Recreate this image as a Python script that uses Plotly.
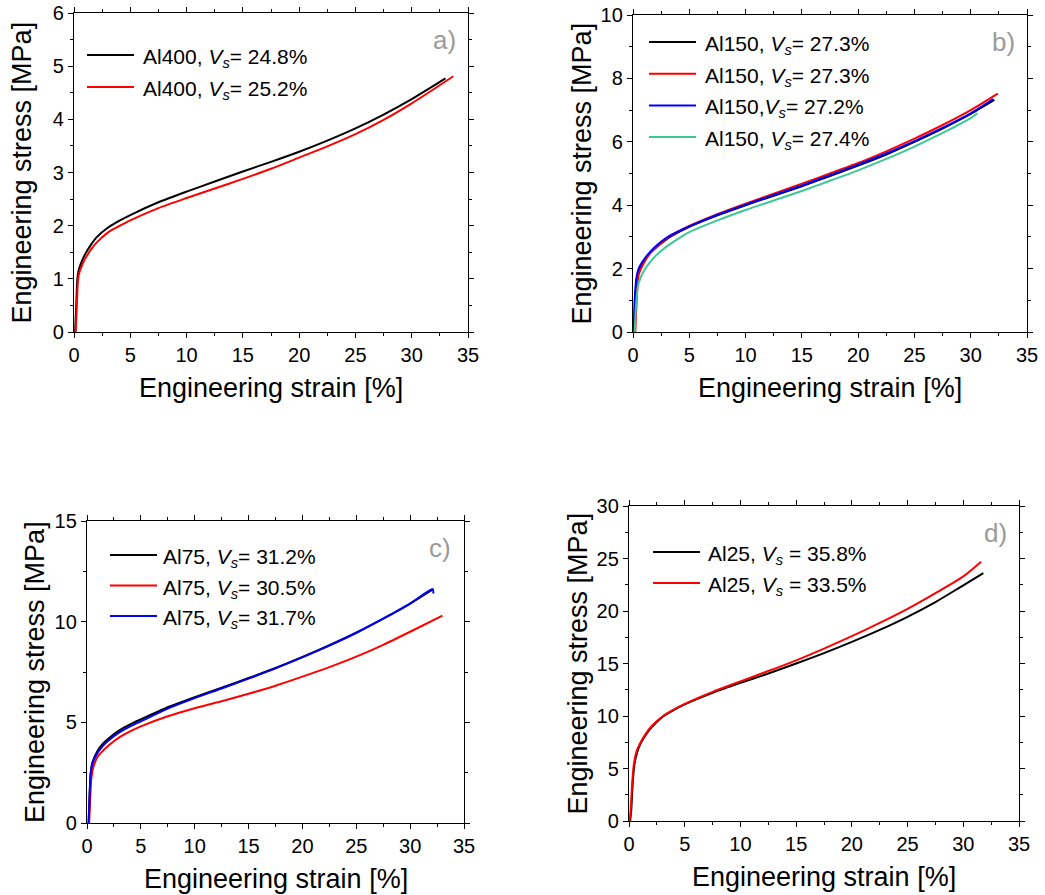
import plotly.graph_objects as go

W, H = 1045, 895

# ---------------- data ----------------
# Panel a) Al400
a_black_x = [0.1, 0.2, 0.3, 0.4, 0.6, 1, 1.5, 2, 3, 4, 5, 7.5, 10, 12.5, 15, 17.5, 20, 22.5, 25, 27.5, 30, 33]
a_black_y = [0, 0.5, 1.0, 1.15, 1.28, 1.47, 1.64, 1.78, 1.96, 2.09, 2.2, 2.44, 2.64, 2.83, 3.02, 3.2, 3.39, 3.6, 3.83, 4.09, 4.38, 4.77]
a_red_x = [0.15, 0.25, 0.35, 0.45, 0.7, 1, 1.5, 2, 3, 4, 5, 7.5, 10, 12.5, 15, 17.5, 20, 22.5, 25, 27.5, 30, 33.7]
a_red_y = [0, 0.5, 0.95, 1.1, 1.25, 1.38, 1.55, 1.68, 1.87, 1.99, 2.1, 2.33, 2.52, 2.7, 2.88, 3.07, 3.28, 3.49, 3.72, 3.99, 4.3, 4.81]

# Panel b) Al150
b_black_x = [0.1, 0.2, 0.3, 0.5, 1, 1.5, 2, 3, 4, 5, 7.5, 10, 12.5, 15, 17.5, 20, 22.5, 25, 27.5, 30, 32.1]
b_black_y = [0, 1.0, 1.6, 1.9, 2.25, 2.48, 2.65, 2.93, 3.14, 3.32, 3.68, 4.0, 4.3, 4.6, 4.92, 5.25, 5.6, 6.0, 6.42, 6.88, 7.32]
b_red_x = [0.2, 0.3, 0.4, 0.5, 1, 1.5, 2, 3, 4, 5, 7.5, 10, 12.5, 15, 17.5, 20, 22.5, 25, 27.5, 30, 32.4]
b_red_y = [0, 0.8, 1.5, 1.8, 2.2, 2.47, 2.65, 2.95, 3.17, 3.35, 3.72, 4.05, 4.36, 4.68, 5.0, 5.33, 5.7, 6.1, 6.53, 7.0, 7.52]
b_blue_x = [0.05, 0.15, 0.3, 0.5, 1, 1.5, 2, 3, 4, 5, 7.5, 10, 12.5, 15, 17.5, 20, 22.5, 25, 27.5, 30, 32.0]
b_blue_y = [0, 1.0, 1.7, 2.0, 2.3, 2.52, 2.7, 2.98, 3.17, 3.33, 3.7, 4.02, 4.32, 4.62, 4.95, 5.28, 5.63, 6.02, 6.44, 6.9, 7.35]
b_green_x = [0.15, 0.3, 0.5, 1, 1.5, 2, 3, 4, 5, 7.5, 10, 12.5, 15, 17.5, 20, 22.5, 25, 27.5, 30, 30.6]
b_green_y = [0, 1.0, 1.55, 1.95, 2.2, 2.4, 2.7, 2.94, 3.15, 3.52, 3.85, 4.15, 4.45, 4.77, 5.1, 5.46, 5.85, 6.28, 6.75, 6.9]

# Panel c) Al75
c_black_x = [0.15, 0.25, 0.35, 0.5, 1, 1.5, 2, 3, 4, 5, 7.5, 10, 12.5, 15, 17.5, 20, 22.5, 25, 27.5, 30, 32.1]
c_black_y = [0, 1.5, 2.5, 3.0, 3.6, 3.95, 4.2, 4.6, 4.9, 5.15, 5.75, 6.25, 6.72, 7.2, 7.7, 8.25, 8.83, 9.45, 10.15, 10.9, 11.6]
c_red_x = [0.2, 0.3, 0.4, 0.6, 1, 1.5, 2, 3, 4, 5, 7.5, 10, 12.5, 15, 17.5, 20, 22.5, 25, 27.5, 30, 33.0]
c_red_y = [0, 1.2, 2.2, 2.8, 3.3, 3.6, 3.85, 4.25, 4.55, 4.8, 5.3, 5.7, 6.05, 6.42, 6.82, 7.27, 7.74, 8.26, 8.85, 9.5, 10.3]
c_blue_x = [0.15, 0.25, 0.35, 0.5, 1, 1.5, 2, 3, 4, 5, 7.5, 10, 12.5, 15, 17.5, 20, 22.5, 25, 27.5, 30, 32.1, 32.15]
c_blue_y = [0, 1.5, 2.5, 2.95, 3.5, 3.85, 4.1, 4.5, 4.8, 5.05, 5.68, 6.2, 6.68, 7.17, 7.68, 8.23, 8.81, 9.45, 10.15, 10.9, 11.62, 11.4]

# Panel d) Al25
d_black_x = [0.1, 0.2, 0.3, 0.4, 0.5, 0.75, 1, 1.5, 2, 3, 4, 5, 7.5, 10, 12.5, 15, 17.5, 20, 22.5, 25, 27.5, 30, 31.8]
d_black_y = [0, 1.0, 3.0, 4.5, 5.5, 6.6, 7.3, 8.2, 8.9, 9.9, 10.55, 11.1, 12.2, 13.15, 14.05, 15.0, 15.99, 17.06, 18.2, 19.45, 20.85, 22.45, 23.6]
d_red_x = [0.05, 0.15, 0.25, 0.35, 0.45, 0.7, 1, 1.5, 2, 3, 4, 5, 7.5, 10, 12.5, 15, 17.5, 20, 22.5, 25, 27.5, 30, 31.6]
d_red_y = [0, 1.0, 3.0, 4.5, 5.5, 6.7, 7.4, 8.3, 9.0, 9.95, 10.6, 11.15, 12.3, 13.3, 14.28, 15.3, 16.42, 17.6, 18.86, 20.2, 21.7, 23.3, 24.7]

# legend labels
a_names = ["Al400, <i>V<sub>s</sub></i>= 24.8%", "Al400, <i>V<sub>s</sub></i>= 25.2%"]
b_names = ["Al150, <i>V<sub>s</sub></i>= 27.3%", "Al150, <i>V<sub>s</sub></i>= 27.3%",
           "Al150,<i>V<sub>s</sub></i>= 27.2%", "Al150, <i>V<sub>s</sub></i>= 27.4%"]
c_names = ["Al75, <i>V<sub>s</sub></i>= 31.2%", "Al75, <i>V<sub>s</sub></i>= 30.5%", "Al75, <i>V<sub>s</sub></i>= 31.7%"]
d_names = ["Al25, <i>V<sub>s</sub></i> = 35.8%", "Al25, <i>V<sub>s</sub></i> = 33.5%"]

panel_labels = ["a)", "b)", "c)", "d)"]
y_ranges = [[0, 6], [0, 10], [0, 15], [0, 30]]
y_dticks = [1, 2, 5, 5]
x_title = "Engineering strain [%]"
y_title = "Engineering stress [MPa]"

BLACK, RED, BLUE, GREEN = "#000000", "#ff0000", "#0000ff", "#3cc896"
FONT = "Liberation Sans, Arial, sans-serif"

# ---------------- layout geometry (pixels) ----------------
# plot boxes: (x0, x1, y_top, y_bottom)
boxes = [(74, 468, 13, 332), (633, 1027, 15, 332), (87, 464, 521, 823), (629, 1019, 506, 821)]
# legend: (line start x, text start x, first row y, row step)
legend_geo = [(87, 141, 55, 32), (649, 703, 42, 31.7), (110, 161, 555, 30.5), (653, 706, 552, 31)]
LEG_LINE_LEN = 47


def px_x(p):
    return p / W


def px_y(p):
    return 1 - p / H


fig = go.Figure()

series = [
    ([(a_black_x, a_black_y, BLACK), (a_red_x, a_red_y, RED)], a_names),
    ([(b_black_x, b_black_y, BLACK), (b_red_x, b_red_y, RED), (b_blue_x, b_blue_y, BLUE), (b_green_x, b_green_y, GREEN)], b_names),
    ([(c_black_x, c_black_y, BLACK), (c_red_x, c_red_y, RED), (c_blue_x, c_blue_y, BLUE)], c_names),
    ([(d_black_x, d_black_y, BLACK), (d_red_x, d_red_y, RED)], d_names),
]

shapes = []
annotations = []

for i, (lines, names) in enumerate(series):
    sfx = "" if i == 0 else str(i + 1)
    lx, tx, ry, step = legend_geo[i]
    for k, ((xs, ys, col), nm) in enumerate(zip(lines, names)):
        fig.add_trace(go.Scatter(
            x=xs, y=ys, mode="lines", name=nm,
            line=dict(color=col, width=2, shape="spline", smoothing=0.7),
            xaxis="x" + sfx, yaxis="y" + sfx, showlegend=False,
        ))
        yy = ry + k * step
        shapes.append(dict(type="line", xref="paper", yref="paper",
                           x0=px_x(lx), x1=px_x(lx + LEG_LINE_LEN), y0=px_y(yy), y1=px_y(yy),
                           line=dict(color=col, width=2)))
        annotations.append(dict(text=nm, xref="paper", yref="paper",
                                x=px_x(tx), y=px_y(yy + 3), xanchor="left", yanchor="middle",
                                showarrow=False, font=dict(family=FONT, size=21, color="black")))

axis_common = dict(
    showgrid=False, zeroline=False, showline=True, linecolor="black", linewidth=1.3,
    mirror="allticks", ticks="outside", ticklen=5, tickwidth=1.3, tickcolor="black",
    tickfont=dict(family=FONT, size=20, color="black"), automargin=False,
)

layout = dict(
    width=W, height=H, margin=dict(l=0, r=0, t=0, b=0, autoexpand=False),
    paper_bgcolor="white", plot_bgcolor="white",
    font=dict(family=FONT, color="black"), showlegend=False,
)

for i, (x0, x1, yt, yb) in enumerate(boxes):
    sfx = "" if i == 0 else str(i + 1)
    layout["xaxis" + sfx] = dict(
        domain=[px_x(x0), px_x(x1)], range=[0, 35], dtick=5, tick0=0,
        anchor="y" + sfx,
        minor=dict(dtick=2.5, ticklen=3, tickwidth=1.3, tickcolor="black", ticks="outside"),
        **axis_common)
    layout["yaxis" + sfx] = dict(
        domain=[px_y(yb), px_y(yt)], range=y_ranges[i], dtick=y_dticks[i], tick0=0,
        anchor="x" + sfx,
        minor=dict(dtick=y_dticks[i] / 2, ticklen=3, tickwidth=1.3, tickcolor="black", ticks="outside"),
        **axis_common)
    # axis titles
    annotations.append(dict(text=x_title, xref="paper", yref="paper",
                            x=px_x((x0 + x1) / 2), y=px_y(yb + 56), xanchor="center", yanchor="middle",
                            showarrow=False, font=dict(family=FONT, size=27, color="black")))
    annotations.append(dict(text=y_title, xref="paper", yref="paper", textangle=-90,
                            x=px_x(x0 - 52), y=px_y((yt + yb) / 2), xanchor="center", yanchor="middle",
                            showarrow=False, font=dict(family=FONT, size=27, color="black")))
    # panel label
    annotations.append(dict(text=panel_labels[i], xref="paper", yref="paper",
                            x=px_x(x1 - 24), y=px_y(yt + 27), xanchor="center", yanchor="middle",
                            showarrow=False, font=dict(family=FONT, size=26, color="#9a9a9a")))

layout["annotations"] = annotations
layout["shapes"] = shapes
fig.update_layout(**layout)
fig.write_html("out.html")
